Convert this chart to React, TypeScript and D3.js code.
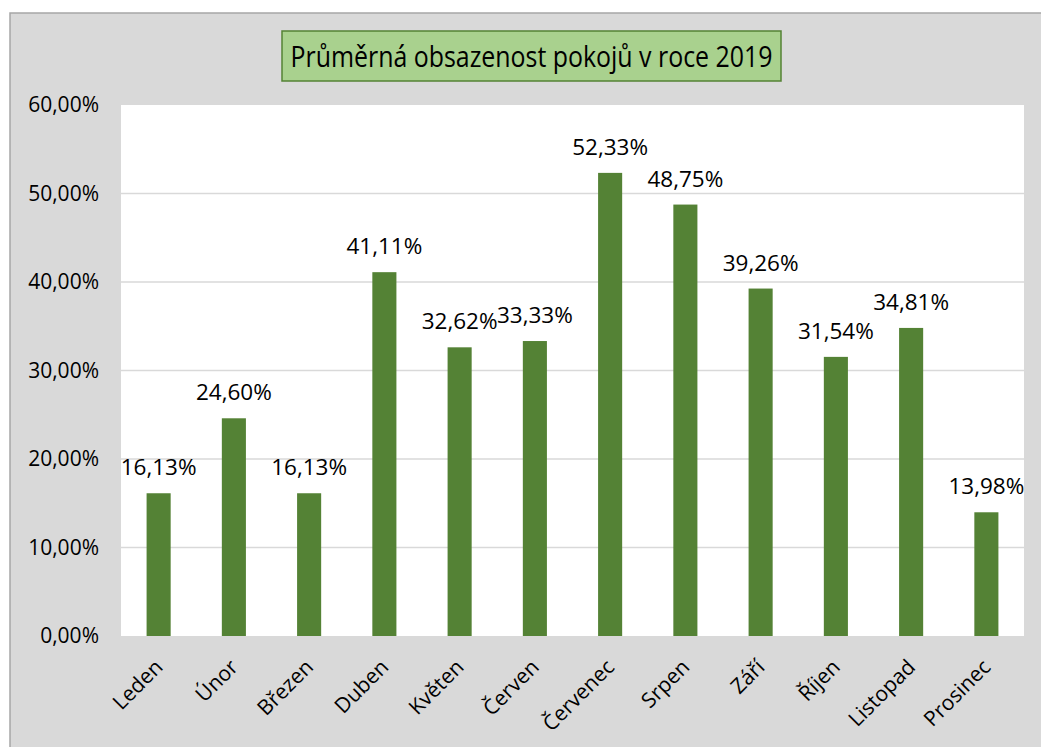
import React, { useEffect, useRef } from 'react';
import * as d3 from 'd3';

// Monthly average room occupancy, 2019
const months = ['Leden', 'Únor', 'Březen', 'Duben', 'Květen', 'Červen', 'Červenec', 'Srpen', 'Září', 'Říjen', 'Listopad', 'Prosinec'];
const occupancy = [16.13, 24.6, 16.13, 41.11, 32.62, 33.33, 52.33, 48.75, 39.26, 31.54, 34.81, 13.98];
const yTicks = [0, 10, 20, 30, 40, 50, 60];
const title = 'Průměrná obsazenost pokojů v roce 2019';

const W = 1041;
const H = 747;
const FONT = '"Open Sans", sans-serif';

export default function App() {
  const ref = useRef<SVGSVGElement | null>(null);

  useEffect(() => {
    const svg = d3.select(ref.current);
    svg.selectAll('*').remove();

    const plot = { left: 121, right: 1024, top: 105, bottom: 636 };
    const fmt = (v: number) => v.toFixed(2).replace('.', ',') + '%';

    // chart area background
    svg.append('rect').attr('x', 0).attr('y', 0).attr('width', W).attr('height', H).attr('fill', '#ffffff');
    svg
      .append('rect')
      .attr('x', 10)
      .attr('y', 13)
      .attr('width', W + 10)
      .attr('height', H)
      .attr('fill', '#d9d9d9')
      .attr('stroke', '#a6a6a6')
      .attr('stroke-width', 1.5);

    const x = d3.scaleBand<string>().domain(months).range([plot.left, plot.right]).paddingInner(0.68).paddingOuter(0.34);
    const y = d3.scaleLinear().domain([0, 60]).range([plot.bottom, plot.top]);

    // plot area
    svg
      .append('rect')
      .attr('x', plot.left)
      .attr('y', plot.top)
      .attr('width', plot.right - plot.left)
      .attr('height', plot.bottom - plot.top)
      .attr('fill', '#ffffff');

    // gridlines
    svg
      .append('g')
      .selectAll('line')
      .data(yTicks.filter((t) => t > 0 && t < 60))
      .join('line')
      .attr('x1', plot.left)
      .attr('x2', plot.right)
      .attr('y1', (d) => y(d))
      .attr('y2', (d) => y(d))
      .attr('stroke', '#d9d9d9')
      .attr('stroke-width', 1.5);

    // y tick labels
    svg
      .append('g')
      .selectAll('text')
      .data(yTicks)
      .join('text')
      .attr('x', 99)
      .attr('y', (d) => y(d))
      .attr('dy', '0.35em')
      .attr('text-anchor', 'end')
      .attr('font-family', FONT)
      .attr('font-size', 21)
      .attr('fill', '#000')
      .text((d) => fmt(d));

    // bars
    svg
      .append('g')
      .selectAll('rect')
      .data(occupancy)
      .join('rect')
      .attr('x', (_, i) => x(months[i])!)
      .attr('y', (d) => y(d))
      .attr('width', x.bandwidth())
      .attr('height', (d) => y(0) - y(d))
      .attr('fill', '#548235');

    // value labels
    svg
      .append('g')
      .selectAll('text')
      .data(occupancy)
      .join('text')
      .attr('x', (_, i) => x(months[i])! + x.bandwidth() / 2)
      .attr('y', (d) => y(d) - 18)
      .attr('text-anchor', 'middle')
      .attr('font-family', FONT)
      .attr('font-size', 22.5)
      .attr('fill', '#000')
      .text((d) => fmt(d));

    // x labels, rotated
    svg
      .append('g')
      .selectAll('text')
      .data(months)
      .join('text')
      .attr('transform', (d) => `translate(${x(d)! + x.bandwidth() / 2 - 5},${plot.bottom + 22}) rotate(-45)`)
      .attr('text-anchor', 'end')
      .attr('dy', '0.7em')
      .attr('font-family', FONT)
      .attr('font-size', 21)
      .attr('fill', '#000')
      .text((d) => d);

    // title box
    const tb = { x: 282, y: 31, w: 499, h: 50 };
    svg
      .append('rect')
      .attr('x', tb.x)
      .attr('y', tb.y)
      .attr('width', tb.w)
      .attr('height', tb.h)
      .attr('fill', '#a9d18e')
      .attr('stroke', '#548235')
      .attr('stroke-width', 1.5);
    svg
      .append('text')
      .attr('x', tb.x + tb.w / 2)
      .attr('y', tb.y + tb.h / 2)
      .attr('dy', '0.36em')
      .attr('text-anchor', 'middle')
      .attr('font-family', FONT)
      .attr('font-size', 30)
      .attr('textLength', 482)
      .attr('lengthAdjust', 'spacingAndGlyphs')
      .attr('fill', '#000')
      .text(title);
  }, []);

  return (
    <div style={{ position: 'absolute', left: 0, top: 0, width: W, height: H }}>
      <svg ref={ref} width={W} height={H} viewBox={`0 0 ${W} ${H}`} />
    </div>
  );
}
